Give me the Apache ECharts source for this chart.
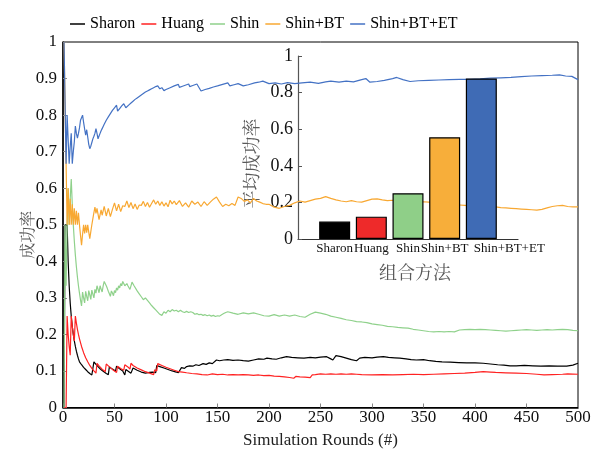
<!DOCTYPE html>
<html>
<head>
<meta charset="utf-8">
<script src="https://cdn.jsdelivr.net/npm/echarts@6/dist/echarts.min.js"></script>
<style>html,body{margin:0;padding:0;background:#fff}#c{width:594px;height:451px}</style>
</head>
<body>
<div id="c"></div>
<script>
const seriesNames = ['Sharon', 'Huang', 'Shin', 'Shin+BT', 'Shin+BT+ET'];
const xTicks = {min: 0, max: 500, interval: 50};

const sharon = [[1,0],[2,0.5],[4,0.5],[5,0.4],[6,0.333],[7,0.286],[8,0.25],[9,0.222],[10,0.2],[11,0.182],[12,0.167],[13,0.154],[14,0.143],[15,0.133],[16,0.125],[18,0.117],[20,0.11],[22,0.104],[24,0.098],[26,0.093],[28,0.089],[29,0.086],[30,0.125],[32,0.118],[34,0.112],[36,0.106],[38,0.101],[40,0.097],[42,0.093],[44,0.09],[45,0.111],[48,0.105],[51,0.1],[52,0.113],[55,0.106],[58,0.1],[60,0.089],[61,0.104],[64,0.098],[66,0.094],[68,0.108],[72,0.102],[76,0.097],[80,0.094],[84,0.096],[87,0.097],[90,0.095],[91,0.115],[94,0.112],[98,0.108],[102,0.104],[106,0.1],[110,0.097],[112,0.095],[115,0.109],[118,0.107],[120,0.112],[123,0.114],[126,0.113],[129,0.117],[132,0.115],[136,0.12],[139,0.118],[142,0.122],[145,0.12],[149,0.13],[152,0.128],[156,0.13],[160,0.131],[165,0.129],[170,0.13],[175,0.128],[180,0.127],[185,0.13],[190,0.133],[195,0.132],[198,0.135],[203,0.133],[207,0.132],[212,0.136],[217,0.139],[222,0.137],[228,0.136],[234,0.135],[240,0.137],[245,0.136],[250,0.138],[256,0.139],[260,0.133],[262,0.13],[265,0.142],[270,0.139],[275,0.135],[280,0.131],[285,0.128],[288,0.135],[293,0.137],[300,0.136],[305,0.138],[311,0.139],[316,0.137],[322,0.136],[327,0.135],[333,0.133],[338,0.131],[343,0.13],[350,0.131],[356,0.128],[362,0.126],[368,0.125],[376,0.124],[384,0.123],[392,0.122],[400,0.122],[408,0.121],[415,0.119],[422,0.117],[428,0.116],[434,0.114],[440,0.114],[448,0.115],[456,0.114],[464,0.113],[472,0.114],[480,0.113],[489,0.113],[495,0.116],[500,0.121]];

const huang = [[1,0],[2,0],[3,0],[4,0.25],[5,0.2],[6,0.167],[7,0.143],[8,0.25],[9,0.222],[10,0.2],[11,0.182],[12,0.25],[13,0.231],[14,0.214],[15,0.2],[16,0.188],[18,0.167],[20,0.15],[22,0.136],[24,0.125],[26,0.115],[28,0.107],[30,0.1],[32,0.094],[33,0.121],[35,0.114],[38,0.105],[41,0.098],[42,0.119],[44,0.114],[46,0.109],[49,0.102],[52,0.096],[53,0.113],[56,0.107],[59,0.102],[60,0.117],[63,0.111],[65,0.105],[66,0.121],[68,0.115],[72,0.108],[76,0.103],[80,0.098],[84,0.094],[88,0.09],[89,0.103],[91,0.1],[92,0.12],[96,0.115],[100,0.11],[104,0.106],[108,0.102],[112,0.098],[116,0.097],[120,0.095],[125,0.093],[130,0.092],[135,0.09],[140,0.089],[145,0.092],[150,0.09],[155,0.091],[160,0.089],[165,0.09],[170,0.089],[175,0.09],[180,0.089],[185,0.088],[190,0.089],[195,0.087],[200,0.088],[205,0.086],[210,0.085],[215,0.084],[220,0.082],[224,0.08],[226,0.085],[230,0.084],[235,0.083],[240,0.082],[242,0.089],[245,0.09],[250,0.092],[255,0.091],[260,0.092],[265,0.091],[270,0.092],[275,0.091],[280,0.092],[285,0.091],[290,0.09],[300,0.089],[310,0.09],[320,0.089],[330,0.09],[340,0.091],[350,0.09],[360,0.091],[370,0.092],[380,0.093],[390,0.094],[400,0.096],[408,0.098],[415,0.097],[420,0.096],[430,0.095],[440,0.094],[450,0.093],[460,0.091],[467,0.089],[475,0.09],[485,0.091],[490,0.092],[500,0.091]];

const shin = [[1,0],[2,0.5],[3,0.333],[4,0.5],[5,0.6],[6,0.5],[7,0.571],[8,0.625],[9,0.556],[10,0.5],[11,0.455],[12,0.417],[13,0.385],[14,0.357],[15,0.333],[16,0.313],[17,0.294],[18,0.278],[19,0.316],[20,0.3],[21,0.286],[22,0.318],[23,0.304],[24,0.292],[25,0.32],[26,0.308],[27,0.296],[28,0.321],[29,0.31],[30,0.3],[31,0.323],[32,0.313],[33,0.333],[34,0.324],[35,0.314],[36,0.333],[37,0.324],[38,0.316],[39,0.333],[40,0.345],[41,0.341],[42,0.333],[43,0.326],[44,0.318],[45,0.311],[46,0.304],[47,0.319],[48,0.313],[49,0.306],[50,0.32],[51,0.314],[52,0.327],[53,0.321],[54,0.333],[55,0.327],[56,0.339],[57,0.333],[58,0.345],[59,0.339],[60,0.333],[61,0.328],[62,0.339],[63,0.333],[64,0.328],[65,0.323],[66,0.333],[67,0.343],[68,0.338],[69,0.333],[70,0.329],[72,0.319],[74,0.311],[76,0.303],[78,0.295],[80,0.3],[82,0.293],[84,0.286],[86,0.279],[88,0.273],[90,0.267],[92,0.261],[94,0.255],[96,0.252],[98,0.262],[100,0.258],[102,0.266],[104,0.262],[106,0.268],[108,0.264],[110,0.266],[112,0.262],[114,0.266],[116,0.262],[118,0.26],[120,0.263],[122,0.26],[124,0.262],[126,0.26],[128,0.255],[130,0.257],[132,0.254],[134,0.255],[136,0.252],[138,0.254],[140,0.251],[142,0.253],[144,0.25],[146,0.252],[148,0.249],[150,0.251],[152,0.25],[154,0.254],[156,0.257],[158,0.26],[160,0.262],[165,0.258],[170,0.255],[175,0.259],[180,0.256],[185,0.259],[190,0.255],[195,0.251],[200,0.25],[205,0.254],[210,0.25],[215,0.253],[220,0.25],[225,0.253],[230,0.249],[235,0.247],[240,0.255],[245,0.261],[250,0.258],[255,0.255],[260,0.25],[265,0.247],[270,0.244],[275,0.24],[280,0.238],[285,0.235],[290,0.234],[295,0.232],[300,0.229],[305,0.227],[310,0.225],[315,0.222],[320,0.221],[325,0.219],[330,0.218],[335,0.217],[340,0.214],[345,0.212],[350,0.21],[355,0.208],[360,0.207],[365,0.208],[370,0.207],[375,0.208],[380,0.207],[385,0.212],[390,0.213],[395,0.214],[400,0.213],[405,0.214],[410,0.213],[415,0.212],[420,0.211],[425,0.21],[430,0.209],[435,0.21],[440,0.211],[445,0.212],[450,0.213],[455,0.212],[460,0.211],[465,0.212],[470,0.213],[475,0.212],[480,0.213],[485,0.214],[490,0.213],[495,0.211],[500,0.21]];

const shinBT = [[1,1],[2,1],[3,0.667],[4,0.5],[5,0.6],[6,0.5],[7,0.571],[8,0.5],[9,0.556],[10,0.5],[11,0.545],[12,0.5],[13,0.538],[14,0.5],[15,0.533],[16,0.5],[17,0.471],[18,0.444],[19,0.474],[20,0.5],[21,0.476],[22,0.5],[23,0.478],[24,0.5],[25,0.48],[26,0.462],[27,0.481],[28,0.5],[29,0.517],[30,0.533],[31,0.548],[32,0.531],[33,0.545],[34,0.529],[35,0.514],[36,0.528],[37,0.541],[38,0.526],[39,0.538],[40,0.55],[42,0.524],[44,0.545],[46,0.522],[48,0.542],[50,0.56],[52,0.538],[54,0.556],[56,0.536],[58,0.552],[60,0.55],[62,0.565],[64,0.547],[66,0.561],[68,0.544],[70,0.557],[72,0.542],[74,0.554],[76,0.553],[78,0.564],[80,0.55],[82,0.561],[84,0.548],[86,0.558],[88,0.568],[90,0.556],[92,0.565],[94,0.553],[96,0.563],[98,0.551],[100,0.56],[102,0.549],[104,0.567],[106,0.557],[108,0.565],[110,0.555],[113,0.566],[116,0.55],[119,0.56],[122,0.548],[125,0.565],[128,0.556],[131,0.562],[134,0.55],[137,0.563],[140,0.553],[143,0.562],[146,0.57],[149,0.576],[152,0.562],[155,0.55],[158,0.556],[161,0.552],[164,0.558],[167,0.553],[170,0.576],[173,0.572],[176,0.564],[179,0.568],[182,0.56],[185,0.572],[188,0.565],[191,0.562],[194,0.558],[197,0.556],[200,0.556],[205,0.548],[210,0.545],[215,0.55],[220,0.553],[225,0.56],[230,0.565],[235,0.562],[240,0.566],[245,0.57],[250,0.572],[255,0.577],[260,0.572],[265,0.568],[270,0.565],[275,0.563],[280,0.566],[285,0.563],[290,0.562],[295,0.566],[300,0.57],[305,0.571],[310,0.568],[315,0.566],[320,0.567],[325,0.566],[330,0.564],[335,0.565],[340,0.563],[345,0.562],[350,0.563],[355,0.562],[360,0.56],[365,0.561],[370,0.558],[375,0.557],[380,0.555],[385,0.554],[390,0.553],[395,0.552],[400,0.551],[405,0.55],[410,0.549],[415,0.549],[420,0.549],[425,0.547],[430,0.546],[435,0.545],[440,0.544],[445,0.543],[450,0.542],[455,0.541],[460,0.54],[465,0.542],[470,0.546],[475,0.55],[480,0.552],[485,0.553],[490,0.55],[495,0.549],[500,0.549]];

const shinBTET = [[1,1],[2,1],[3,0.667],[4,0.8],[5,0.8],[6,0.667],[7,0.714],[8,0.75],[9,0.667],[10,0.7],[11,0.727],[12,0.77],[13,0.75],[14,0.737],[15,0.75],[16,0.765],[17,0.786],[18,0.79],[19,0.8],[20,0.78],[21,0.762],[22,0.745],[23,0.76],[24,0.74],[25,0.72],[26,0.708],[27,0.715],[28,0.725],[29,0.735],[30,0.742],[31,0.75],[32,0.763],[33,0.75],[34,0.735],[35,0.743],[36,0.75],[37,0.757],[38,0.763],[39,0.769],[40,0.775],[41,0.78],[42,0.786],[43,0.791],[44,0.795],[45,0.8],[46,0.804],[47,0.809],[48,0.813],[49,0.816],[50,0.82],[51,0.824],[52,0.827],[53,0.811],[54,0.815],[55,0.818],[56,0.821],[57,0.825],[58,0.828],[59,0.831],[60,0.833],[61,0.82],[62,0.823],[64,0.828],[66,0.833],[68,0.838],[70,0.843],[72,0.847],[74,0.851],[76,0.855],[78,0.859],[80,0.863],[82,0.866],[84,0.869],[86,0.872],[88,0.875],[90,0.878],[92,0.88],[93,0.882],[94,0.872],[96,0.875],[97,0.876],[98,0.867],[100,0.87],[104,0.875],[108,0.88],[112,0.884],[113,0.876],[116,0.879],[120,0.883],[122,0.885],[123,0.878],[126,0.881],[130,0.885],[131,0.885],[134,0.866],[138,0.87],[142,0.873],[146,0.877],[150,0.88],[155,0.884],[160,0.888],[162,0.88],[166,0.883],[170,0.886],[175,0.88],[180,0.883],[186,0.888],[190,0.89],[194,0.893],[200,0.886],[206,0.888],[212,0.885],[218,0.889],[225,0.886],[232,0.888],[240,0.89],[248,0.887],[255,0.891],[260,0.893],[268,0.89],[275,0.893],[282,0.891],[290,0.897],[294,0.9],[298,0.89],[305,0.892],[312,0.895],[320,0.9],[324,0.903],[330,0.897],[337,0.892],[345,0.894],[355,0.895],[365,0.896],[375,0.897],[385,0.898],[395,0.898],[405,0.899],[415,0.901],[425,0.902],[435,0.903],[445,0.905],[455,0.907],[465,0.908],[475,0.909],[482,0.91],[488,0.907],[494,0.906],[500,0.897]];

const barCategories = ['Sharon', 'Huang', 'Shin', 'Shin+BT', 'Shin+BT+ET'];
const barValues = [0.095, 0.122, 0.25, 0.556, 0.877];

const lineColors = ['#000000', '#ff2222', '#8fd18b', '#f8a832', '#4472c4'];
const barColors = ['#000000', '#ee2a2a', '#8fcf88', '#f7ae3a', '#3f6bb5'];
const lineData = [sharon, huang, shin, shinBT, shinBTET];

const serif = '"Liberation Serif", "Times New Roman", serif';
const cjk = '"Noto Serif CJK SC", "Noto Sans CJK SC", sans-serif';

const chart = echarts.init(document.getElementById('c'), null, {renderer: 'canvas'});
const option = {
  animation: false,
  backgroundColor: '#fff',
  legend: {
    data: seriesNames,
    left: 65, top: 11,
    icon: 'rect', itemWidth: 15, itemHeight: 1.5, itemGap: 6,
    textStyle: {fontFamily: serif, fontSize: 16, color: '#000'}
  },
  grid: [
    {left: 63, right: 16, top: 42, bottom: 43.5, show: true, borderColor: '#000', borderWidth: 1,
     containLabel: false, outerBoundsMode: 'none'},
    {left: 298, right: 76, top: 56, bottom: 212, containLabel: false, outerBoundsMode: 'none'}
  ],
  xAxis: [
    {gridIndex: 0, type: 'value', min: xTicks.min, max: xTicks.max, interval: xTicks.interval,
     name: 'Simulation Rounds (#)', nameLocation: 'middle', nameGap: 25, nameMoveOverlap: false,
     nameTextStyle: {fontFamily: serif, fontSize: 17, color: '#222'},
     axisLine: {lineStyle: {color: '#000', width: 1.5}},
     axisTick: {inside: true, length: 4, lineStyle: {color: '#888'}},
     axisLabel: {fontFamily: serif, fontSize: 17, color: '#111', margin: 2},
     splitLine: {show: false}},
    {gridIndex: 1, type: 'value', min: -1, max: 5, interval: 1,
     name: '组合方法', nameLocation: 'middle', nameGap: 24, nameMoveOverlap: false,
     nameTextStyle: {fontFamily: cjk, fontSize: 18, color: '#595959', padding: [0,0,0,14]},
     axisLine: {onZero: false, lineStyle: {color: '#333', width: 1.2}},
     axisTick: {show: false},
     axisLabel: {fontFamily: serif, fontSize: 13, color: '#111', margin: 3,
       formatter: v => {
         const i = Math.round(v);
         if (i < 0 || i >= barCategories.length) return '';
         return i === barCategories.length - 1 ? '{s|' + barCategories[i] + '}' : barCategories[i];
       },
       rich: {s: {fontFamily: serif, fontSize: 13, color: '#111', padding: [0,0,0,56]}}},
     splitLine: {show: false}}
  ],
  yAxis: [
    {gridIndex: 0, type: 'value', min: 0, max: 1, interval: 0.1,
     name: '成功率', nameLocation: 'middle', nameGap: 28, nameRotate: 90, nameMoveOverlap: false,
     nameTextStyle: {fontFamily: cjk, fontSize: 16, color: '#555', padding: [0,20,0,0]},
     axisLine: {show: true, onZero: false, lineStyle: {color: '#000', width: 1.5}},
     axisTick: {show: true, inside: true, length: 4, lineStyle: {color: '#888'}},
     axisLabel: {fontFamily: serif, fontSize: 17, color: '#111', margin: 6},
     splitLine: {show: false}},
    {gridIndex: 1, type: 'value', min: 0, max: 1, interval: 0.2,
     name: '平均成功率', nameLocation: 'middle', nameGap: 38, nameRotate: 90, nameMoveOverlap: false,
     nameTextStyle: {fontFamily: cjk, fontSize: 18, color: '#595959', padding: [0,32,0,0]},
     axisLine: {show: true, onZero: false, lineStyle: {color: '#555', width: 1.2}},
     axisTick: {show: true, inside: true, length: 4, lineStyle: {color: '#555'}},
     axisLabel: {fontFamily: serif, fontSize: 18, color: '#111', margin: 5},
     splitLine: {show: false}}
  ],
  series: [
    ...seriesNames.map((n, i) => ({
      name: n, type: 'line', xAxisIndex: 0, yAxisIndex: 0,
      data: lineData[i], showSymbol: false, symbol: 'none',
      lineStyle: {color: lineColors[i], width: 1.2}, itemStyle: {color: lineColors[i]},
      z: 2
    })),
    {
      type: 'bar', xAxisIndex: 1, yAxisIndex: 1, barWidth: 31,
      data: barValues.map((v, i) => ({value: [i, v], itemStyle: {color: barColors[i]}})),
      itemStyle: {borderColor: '#000', borderWidth: 1.2},
      z: 5
    }
  ]
};
chart.setOption(option);
</script>
</body>
</html>
